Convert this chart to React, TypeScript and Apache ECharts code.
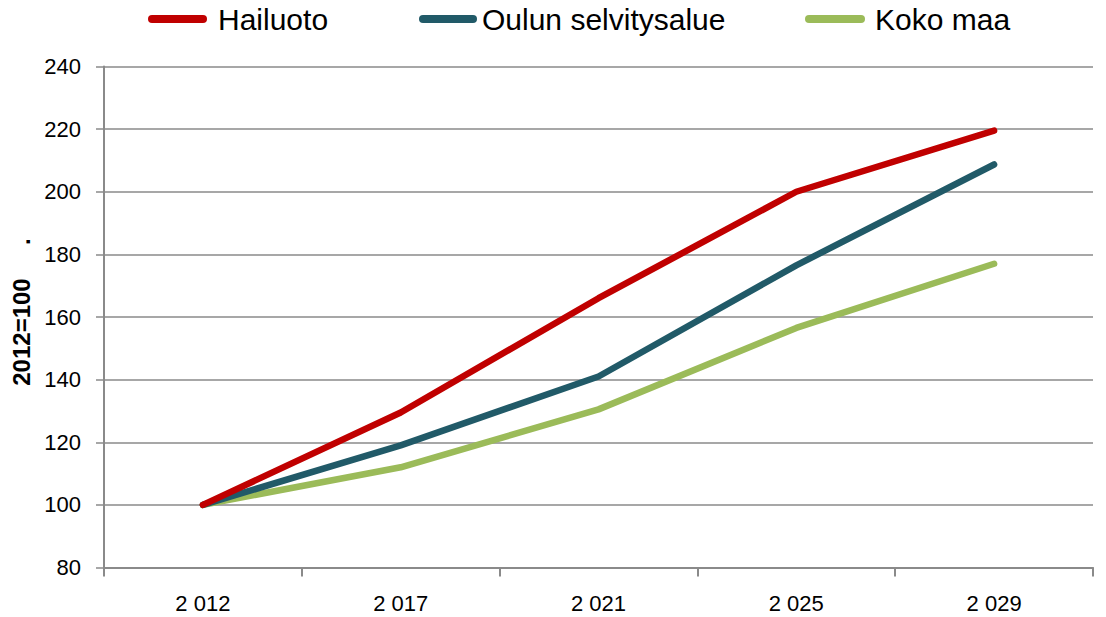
import React, { useEffect, useRef } from "react";
import * as echarts from "echarts";

const categories = ["2 012", "2 017", "2 021", "2 025", "2 029"];
const hailuoto = [100, 129.5, 166, 200, 219.5];
const oulu = [100, 119, 141, 176.5, 208.7];
const kokoMaa = [100, 112, 130.5, 156.5, 177];
const seriesNames = ["Hailuoto", "Oulun selvitysalue", "Koko maa"];
const colors = ["#C00000", "#215A68", "#9BBB59"];
const yTicks = { min: 80, max: 240, interval: 20 };

const pill = (w: number, h: number) => {
  const r = h / 2;
  return `path://M${r},0 H${w - r} A${r},${r} 0 0 1 ${w - r},${h} H${r} A${r},${r} 0 0 1 ${r},0 Z`;
};

export default function App() {
  const ref = useRef<HTMLDivElement>(null);
  useEffect(() => {
    document.body.style.margin = "0";
    const chart = echarts.init(ref.current!, undefined, { renderer: "svg" });
    const font = "'Liberation Sans', Arial, sans-serif";
    const legendPos = [
      { left: 148, w: 59, pad: 6 },
      { left: 419, w: 58, pad: 0 },
      { left: 805, w: 60, pad: 5 },
    ];
    chart.setOption({
      animation: false,
      textStyle: { fontFamily: font },
      legend: seriesNames.map((n, i) => ({
        data: [n],
        left: legendPos[i].left,
        top: 4,
        padding: 0,
        itemWidth: legendPos[i].w,
        itemHeight: 8,
        icon: pill(legendPos[i].w, 8),
        itemStyle: { color: colors[i] },
        textStyle: {
          fontSize: 30,
          color: "#000",
          fontFamily: font,
          padding: [0, 0, 0, legendPos[i].pad],
        },
        selectedMode: false,
      })),
      grid: { left: 104, right: 13, top: 66.5, bottom: 49.5 },
      xAxis: {
        type: "category",
        data: categories,
        boundaryGap: true,
        axisLine: { lineStyle: { color: "#8a8a8a", width: 2 } },
        axisTick: { show: true, length: 9, lineStyle: { color: "#8a8a8a", width: 2 } },
        axisLabel: { fontSize: 22, color: "#000", margin: 25 },
        splitLine: { show: false },
      },
      yAxis: {
        type: "value",
        min: yTicks.min,
        max: yTicks.max,
        interval: yTicks.interval,
        name: "2012=100\u00a0\u00a0\u00a0\u00a0\u00a0.",
        nameLocation: "middle",
        nameGap: 68,
        nameRotate: 90,
        nameTextStyle: {
          fontSize: 24,
          fontWeight: "bold",
          color: "#000",
          padding: [0, 0, 0, 10],
        },
        axisLine: { show: true, lineStyle: { color: "#8a8a8a", width: 2 } },
        axisTick: { show: true, length: 8, lineStyle: { color: "#8a8a8a", width: 1.5 } },
        axisLabel: { fontSize: 22, color: "#000", margin: 23 },
        splitLine: { show: true, lineStyle: { color: "#8a8a8a", width: 1.5 } },
      },
      series: [hailuoto, oulu, kokoMaa].map((d, i) => ({
        name: seriesNames[i],
        type: "line",
        data: d,
        symbol: "none",
        showSymbol: false,
        color: colors[i],
        lineStyle: { width: 6.5, color: colors[i], cap: "round", join: "round" },
        z: 3 - i,
      })),
    });
    return () => chart.dispose();
  }, []);
  return (
    <div
      ref={ref}
      style={{ position: "absolute", left: 0, top: 0, width: 1106, height: 617 }}
    />
  );
}
